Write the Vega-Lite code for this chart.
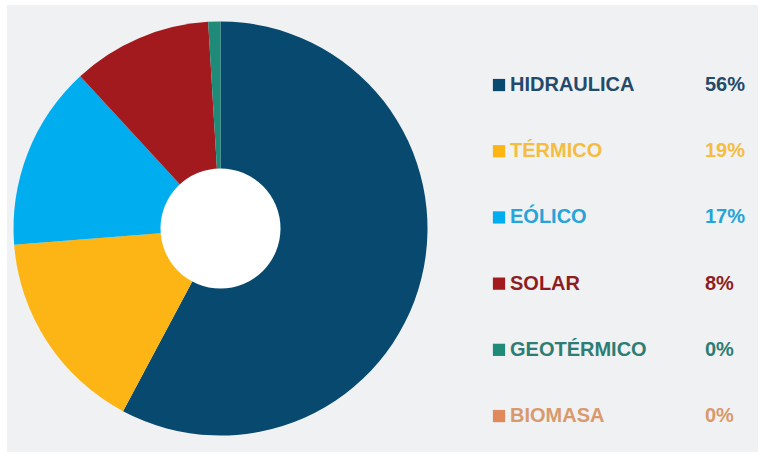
{
  "$schema": "https://vega.github.io/schema/vega-lite/v6.json",
  "background": "#ffffff",
  "padding": {"left": 7, "top": 5, "right": 6, "bottom": 5},
  "config": {"view": {"fill": "#f0f1f3", "stroke": null}, "concat": {"spacing": 0}},
  "datasets": {
    "energia": [
      {"fuente": "HIDRAULICA", "rank": 1, "share": 57.8, "pct": "56%"},
      {"fuente": "TÉRMICO", "rank": 2, "share": 15.95, "pct": "19%"},
      {"fuente": "EÓLICO", "rank": 3, "share": 14.4, "pct": "17%"},
      {"fuente": "SOLAR", "rank": 4, "share": 10.9, "pct": "8%"},
      {"fuente": "GEOTÉRMICO", "rank": 5, "share": 0.95, "pct": "0%"},
      {"fuente": "BIOMASA", "rank": 6, "share": 0, "pct": "0%"}
    ]
  },
  "hconcat": [
    {
      "width": 427,
      "height": 447,
      "layer": [
        {
          "data": {"values": [{"panel": "fondo"}]},
          "mark": {"type": "rect", "fill": "#f0f1f3", "stroke": null},
          "encoding": {
            "x": {"datum": 0, "type": "quantitative", "scale": {"domain": [0, 1], "nice": false, "zero": false}, "axis": null},
            "x2": {"datum": 1},
            "y": {"datum": 0, "type": "quantitative", "scale": {"domain": [0, 1], "nice": false, "zero": false}, "axis": null},
            "y2": {"datum": 1}
          }
        },
        {
          "data": {"name": "energia"},
          "mark": {"type": "arc", "radius": 207, "stroke": null},
          "encoding": {
            "theta": {"field": "share", "type": "quantitative", "stack": true},
            "order": {"field": "rank", "type": "quantitative"},
            "color": {
              "field": "fuente",
              "type": "nominal",
              "scale": {
                "domain": ["HIDRAULICA", "TÉRMICO", "EÓLICO", "SOLAR", "GEOTÉRMICO", "BIOMASA"],
                "range": ["#07496f", "#fcb515", "#00adef", "#a21a1d", "#1f8a78", "#e0895a"]
              },
              "legend": null
            }
          }
        },
        {
          "data": {"values": [{"panel": "centro"}]},
          "mark": {"type": "arc", "radius": 60, "theta": 0, "theta2": 6.2832, "fill": "#ffffff", "stroke": null},
          "encoding": {}
        }
      ]
    },
    {
      "width": 324,
      "height": 447,
      "data": {"name": "energia"},
      "encoding": {
        "y": {
          "field": "fuente",
          "type": "nominal",
          "sort": {"field": "rank"},
          "scale": {"type": "point", "padding": 0.876, "align": 0.69},
          "axis": null
        }
      },
      "layer": [
        {
          "mark": {"type": "square", "size": 150, "filled": true, "opacity": 1},
          "encoding": {
            "x": {"value": 65},
            "color": {
              "field": "fuente",
              "type": "nominal",
              "scale": {
                "domain": ["HIDRAULICA", "TÉRMICO", "EÓLICO", "SOLAR", "GEOTÉRMICO", "BIOMASA"],
                "range": ["#07496f", "#fcb515", "#00adef", "#a21a1d", "#1f8a78", "#e0895a"]
              },
              "legend": null
            }
          }
        },
        {
          "mark": {"type": "text", "align": "left", "baseline": "middle", "font": "Liberation Sans", "fontWeight": "bold", "fontSize": 20},
          "encoding": {
            "x": {"value": 76},
            "text": {"field": "fuente"},
            "fill": {
              "field": "fuente",
              "type": "nominal",
              "scale": {
                "domain": ["HIDRAULICA", "TÉRMICO", "EÓLICO", "SOLAR", "GEOTÉRMICO", "BIOMASA"],
                "range": ["#23496b", "#f4bd3f", "#24a4d8", "#8e1d22", "#2d7d74", "#d89a6c"]
              },
              "legend": null
            }
          }
        },
        {
          "mark": {"type": "text", "align": "left", "baseline": "middle", "font": "Liberation Sans", "fontWeight": "bold", "fontSize": 20},
          "encoding": {
            "x": {"value": 271},
            "text": {"field": "pct"},
            "fill": {
              "field": "fuente",
              "type": "nominal",
              "scale": {
                "domain": ["HIDRAULICA", "TÉRMICO", "EÓLICO", "SOLAR", "GEOTÉRMICO", "BIOMASA"],
                "range": ["#33506a", "#f1c257", "#43a9d6", "#9a3a3e", "#3b7d75", "#d8a27e"]
              },
              "legend": null
            }
          }
        }
      ]
    }
  ]
}
